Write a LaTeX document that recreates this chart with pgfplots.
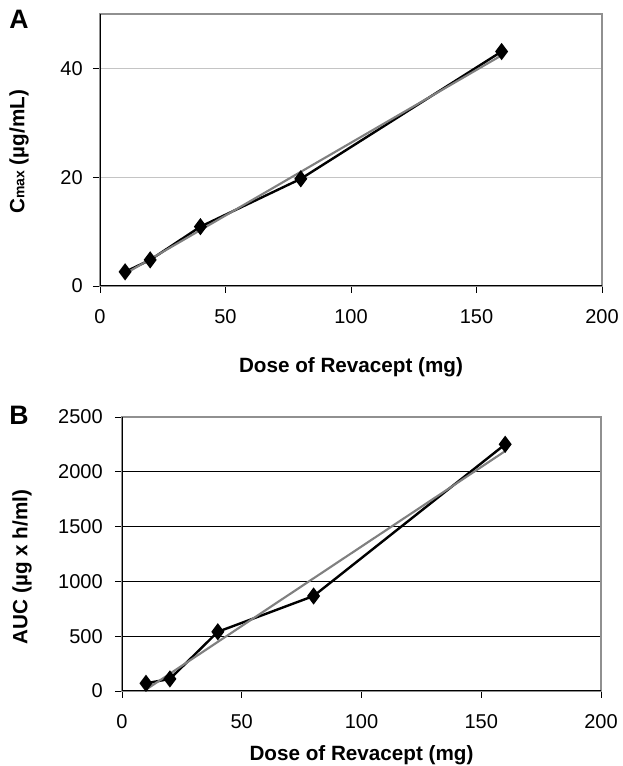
\documentclass[border=0pt]{standalone}
\usepackage{pgfplots}
\pgfplotsset{compat=1.18}
\usepackage{fontspec}
\setmainfont{Liberation Sans}

\definecolor{gridA}{HTML}{C4C4C4}
\definecolor{boxgray}{HTML}{909090}
\definecolor{trendgray}{HTML}{808080}

\pgfplotsset{
  revstyle/.style={
    scale only axis,
    anchor=south west,
    xmin=0, xmax=200,
    xtick={0,50,100,150,200},
    xtick pos=bottom, ytick pos=left,
    tick align=outside,
    major tick length=5.25pt,
    tick style={black, line width=0.6pt},
    axis line style={draw=boxgray, line width=0.8pt},
    /pgf/number format/assume math mode=true,
    /pgf/number format/1000 sep={},
    tick label style={font=\fontsize{15}{16}\selectfont, inner sep=0pt},
    xticklabel style={anchor=north},
    yticklabel style={anchor=east},
    xticklabel shift=12.5pt,
    label style={font=\fontsize{15.5}{17}\selectfont\bfseries},
  },
  dataline/.style={black, line width=1.8pt, mark=diamond*, mark size=5pt,
    mark options={fill=black, solid}},
  trendline/.style={trendgray, line width=1.6pt, no marks},
}

\begin{document}
\begin{tikzpicture}
\useasboundingbox (0,0) rectangle (466.5pt,574.5pt);

% panel A
\begin{axis}[
  revstyle,
  at={(75pt,360pt)},
  width=376.5pt, height=204pt,
  ymin=0, ymax=50,
  ytick={0,20,40},
  yticklabel shift=7.5pt,
  ymajorgrids,
  major grid style={gridA, line width=0.8pt},
  xlabel={Dose of Revacept (mg)},
  ylabel={C{\fontsize{10.5}{12}\selectfont max} (µg/mL)},
  xlabel style={at={(axis description cs:0.5,-0.2978)}, anchor=center},
  ylabel style={at={(axis description cs:-0.1614,0.493)}, anchor=center},
]
\addplot[dataline] coordinates {(10,2.6) (20,4.8) (40,10.9) (80,19.7) (160,43.1)};
\addplot[trendline] coordinates {(10,2.25) (160,42.4)};
\draw[black, line width=0.8pt] (rel axis cs:0,1) -- (rel axis cs:0,0) -- (rel axis cs:1,0);
\end{axis}

% panel B
\begin{axis}[
  revstyle,
  at={(91.5pt,56.25pt)},
  width=359.25pt, height=205.5pt,
  ymin=0, ymax=2500,
  ytick={0,500,1000,1500,2000,2500},
  yticklabel shift=9pt,
  ymajorgrids,
  major grid style={black, line width=0.8pt},
  xlabel={Dose of Revacept (mg)},
  ylabel={AUC (µg x h/ml)},
  xlabel style={at={(axis description cs:0.5,-0.2336)}, anchor=center},
  ylabel style={at={(axis description cs:-0.2088,0.453)}, anchor=center},
]
\addplot[dataline] coordinates {(10,70) (20,110) (40,540) (80,867) (160,2251)};
\addplot[trendline] coordinates {(10,12.7) (160,2189)};
\draw[black, line width=0.8pt] (rel axis cs:0,1) -- (rel axis cs:0,0) -- (rel axis cs:1,0);
\end{axis}

\node[font=\fontsize{20}{22}\selectfont\bfseries] at (14.25pt,560.25pt) {A};
\node[font=\fontsize{20}{22}\selectfont\bfseries] at (14.25pt,263.25pt) {B};
\end{tikzpicture}
\end{document}
